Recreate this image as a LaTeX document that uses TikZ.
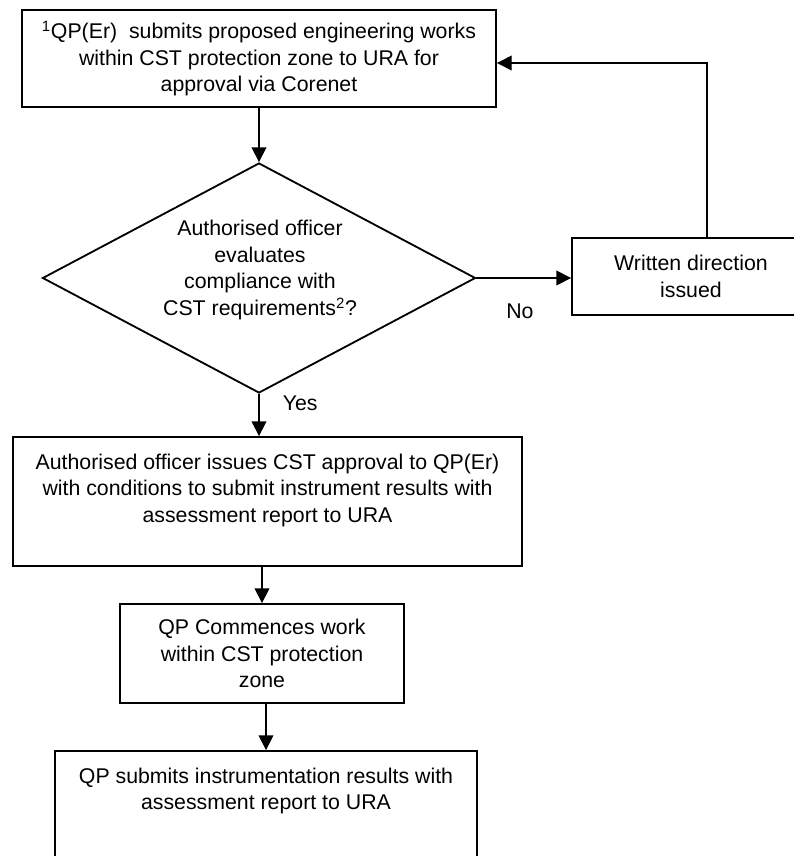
\documentclass[tikz,border=0pt]{standalone}
\usepackage{fontspec}
\setmainfont{Liberation Sans}
\usetikzlibrary{arrows.meta,shapes.geometric}
\newdimen\pu
\pu=0.025cm

\begin{document}
\begin{tikzpicture}[x=0.025cm,y=-0.025cm,
	every node/.style={font=\fontsize{15.15pt}{18.9pt}\selectfont},
	procbox/.style={draw,line width=1.3pt,rectangle,align=center,inner sep=0pt},
	decbox/.style={draw,line width=1.3pt,diamond,inner sep=0pt},
	flowarrow/.style={line width=1pt,-{Triangle[length=10.5pt,width=10.5pt]}},
	lbl/.style={inner sep=0pt,align=center}]
	% page size, the direction box runs off the right edge
	\useasboundingbox (0,0) rectangle (794,856);
	\clip (0,0) rectangle (794,856);
	% draw boxes
	\node[procbox,minimum width=474\pu,minimum height=97\pu] (start) at (259,58.5) {\textsuperscript{1}QP(Er)\ \ submits proposed engineering works\\within CST protection zone to URA for\\approval via Corenet};
	\node[decbox,minimum width=433\pu,minimum height=230\pu] (check) at (259,278) {};
	\node[lbl] (checktext) at (260,270) {Authorised officer\\evaluates\\compliance with\\CST requirements\textsuperscript{2}?};
	\node[procbox,minimum width=238\pu,minimum height=77\pu] (direction) at (691,276.5) {Written direction\\issued};
	\node[procbox,minimum width=509\pu,minimum height=129\pu] (approval) at (267.5,501.5) {Authorised officer issues CST approval to QP(Er)\\with conditions to submit instrument results with\\assessment report to URA\\\mbox{}};
	\node[procbox,minimum width=284\pu,minimum height=99\pu] (commence) at (262,653.5) {QP Commences work\\within CST protection\\zone};
	\node[procbox,minimum width=422\pu,minimum height=129\pu] (submit) at (266,815.5) {QP submits instrumentation results with\\assessment report to URA\\\mbox{}\\\mbox{}};
	% draw connectors
	\draw[flowarrow] (start.south) -- (check.north);
	\draw[flowarrow] (check.east) -- (check.east -| direction.west) node[lbl,pos=0.46,below=17.8pt] {No};
	\draw[flowarrow] (check.south) -- (check.south |- approval.north) node[lbl,pos=0.23,right=16.4pt] {Yes};
	\draw[flowarrow] (approval.south -| commence.north) -- (commence.north);
	\draw[flowarrow] (commence.south -| submit.north) -- (submit.north);
	% back to the first box
	\coordinate (turn) at (707,63);
	\draw[flowarrow,line width=0.8pt] (direction.north -| turn) -- (turn) -- (turn -| start.east);
\end{tikzpicture}
\end{document}
